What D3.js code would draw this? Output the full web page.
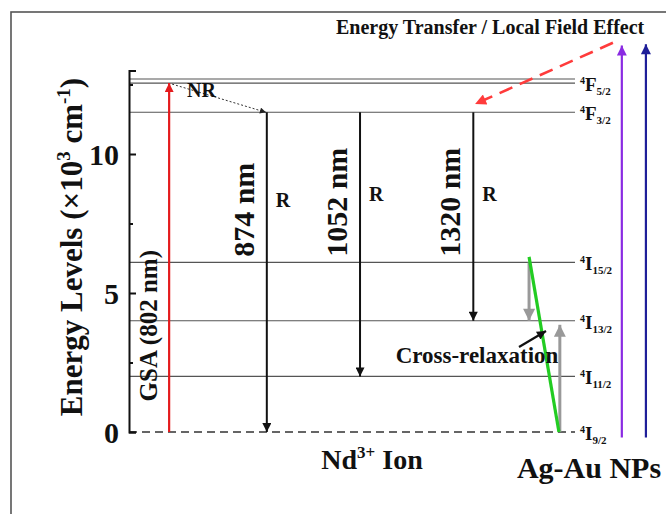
<!DOCTYPE html>
<html>
<head>
<meta charset="utf-8">
<script src="https://cdn.jsdelivr.net/npm/d3@7"></script>
<style>
  body { margin: 0; background: #fff; }
  text { font-family: "Liberation Serif", "Times New Roman", serif; font-weight: bold; fill: #111; }
</style>
</head>
<body>
<div id="chart"></div>
<script>
// Nd3+ energy levels (x10^3 cm^-1)
var levelLetters = ["I", "I", "I", "I", "F", "F"];
var levelSubs    = ["9/2", "11/2", "13/2", "15/2", "3/2", "5/2"];
var levelEnergy  = [0, 2.0, 4.0, 6.1, 11.5, 12.55];
var pairEnergy   = 12.7;   // upper line of the 4F5/2 pair

var yTicks      = [0, 5, 10];
var yMinorTicks = [2.5, 7.5, 12.5];

// GSA pump and radiative transitions
var gsaFrom = 0, gsaTo = 12.55;
var emissionLabels = ["874 nm", "1052 nm", "1320 nm"];
var emissionFrom   = [11.5, 11.5, 11.5];
var emissionTo     = [0, 2.0, 4.0];

// cross relaxation: 4I15/2 -> 4I13/2 and 4I9/2 -> 4I13/2
var crossDown = [6.1, 4.0];
var crossUp   = [0, 4.0];

// plasmon (Ag-Au NPs) excitation arrows
var npFrom = [-0.2, -0.2];
var npTo   = [13.9, 13.95];

var W = 666, H = 514;

var svg = d3.select("#chart")
  .append("svg")
  .attr("width", W)
  .attr("height", H);

svg.append("rect").attr("width", W).attr("height", H).attr("fill", "#fff");

// outer frame (cut by the picture edges right and bottom)
svg.append("rect")
  .attr("x", 11).attr("y", 12)
  .attr("width", 720).attr("height", 600)
  .attr("fill", "none")
  .attr("stroke", "#555")
  .attr("stroke-width", 1.6);

var y = d3.scaleLinear().domain([0, 13]).range([432, 70.6]);
// horizontal position in the diagram, 0 = y axis, 1 = end of level lines
var x = d3.scaleLinear().domain([0, 1]).range([129, 575]);

// arrow heads
var defs = svg.append("defs");
function marker(id, color, len, wid) {
  defs.append("marker")
    .attr("id", id)
    .attr("markerUnits", "userSpaceOnUse")
    .attr("viewBox", "0 0 10 10")
    .attr("refX", 10).attr("refY", 5)
    .attr("markerWidth", len).attr("markerHeight", wid)
    .attr("orient", "auto")
    .append("path")
    .attr("d", "M0,0 L10,5 L0,10 z")
    .attr("fill", color);
}
marker("hBlack", "#111", 13, 9);
marker("hRed", "#e41a1c", 12, 9);
marker("hGray", "#999", 14, 12);
marker("hPurple", "#8a2be2", 13, 10);
marker("hBlue", "#1f1f99", 13, 10);
marker("hDash", "#ff3b3b", 14, 11);
marker("hSmall", "#222", 8, 6);
marker("hCross", "#111", 12, 9);

// level lines
var levels = svg.append("g");
levels.selectAll("line.lvl")
  .data(levelEnergy.slice(1).concat([pairEnergy]))
  .enter().append("line")
  .attr("class", "lvl")
  .attr("x1", x(0)).attr("x2", x(1))
  .attr("y1", function(d) { return y(d); })
  .attr("y2", function(d) { return y(d); })
  .attr("stroke", "#555")
  .attr("stroke-width", 1.1);

// ground level dashed
levels.append("line")
  .attr("x1", x(0)).attr("x2", x(1))
  .attr("y1", y(levelEnergy[0])).attr("y2", y(levelEnergy[0]))
  .attr("stroke", "#333")
  .attr("stroke-width", 1.6)
  .attr("stroke-dasharray", "8,5");

// level labels  4I_{15/2} etc
var lab = svg.append("g").selectAll("text")
  .data(levelEnergy)
  .enter().append("text")
  .attr("x", x(1) + 5)
  .attr("y", function(d) { return y(d) + 8; });
lab.append("tspan").attr("font-size", 10).attr("dy", -7).text("4");
lab.append("tspan").attr("font-size", 19).attr("dy", 7)
  .text(function(d, i) { return levelLetters[i]; });
lab.append("tspan").attr("font-size", 11).attr("dy", 4)
  .text(function(d, i) { return levelSubs[i]; });

// y axis
var yAxis = d3.axisRight(y).tickValues(yTicks).tickSize(7).tickFormat("");
var ga = svg.append("g").attr("transform", "translate(" + x(0) + ",0)").call(yAxis);
ga.select(".domain").attr("stroke", "#111").attr("stroke-width", 2);
ga.selectAll(".tick line").attr("stroke", "#111").attr("stroke-width", 2);
var gm = svg.append("g").attr("transform", "translate(" + x(0) + ",0)")
  .call(d3.axisRight(y).tickValues(yMinorTicks).tickSize(4).tickFormat(""));
gm.select(".domain").remove();
gm.selectAll(".tick line").attr("stroke", "#111").attr("stroke-width", 2);

svg.append("g").selectAll("text")
  .data(yTicks)
  .enter().append("text")
  .attr("x", x(0) - 10)
  .attr("y", function(d) { return y(d) + 11; })
  .attr("text-anchor", "end")
  .attr("font-size", 30)
  .text(function(d) { return d; });

var yl = svg.append("text")
  .attr("transform", "translate(82,247) rotate(-90)")
  .attr("text-anchor", "middle")
  .attr("font-size", 31);
yl.append("tspan").text("Energy Levels (\u00d710");
yl.append("tspan").attr("font-size", 19).attr("dy", -12).text("3");
yl.append("tspan").attr("dy", 12).text(" cm");
yl.append("tspan").attr("font-size", 19).attr("dy", -12).text("-1");
yl.append("tspan").attr("dy", 12).text(")");

// GSA arrow
var gsaX = x(0.09);
svg.append("line")
  .attr("x1", gsaX).attr("x2", gsaX)
  .attr("y1", y(gsaFrom)).attr("y2", y(gsaTo))
  .attr("stroke", "#e41a1c").attr("stroke-width", 2.2)
  .attr("marker-end", "url(#hRed)");
svg.append("text")
  .attr("transform", "translate(" + (gsaX - 12) + "," + y(1.1) + ") rotate(-90)")
  .attr("font-size", 25)
  .text("GSA (802 nm)");

// NR dotted
svg.append("line")
  .attr("x1", gsaX + 3).attr("y1", y(gsaTo) + 1)
  .attr("x2", x(0.307)).attr("y2", y(emissionFrom[0]))
  .attr("stroke", "#333").attr("stroke-width", 1)
  .attr("stroke-dasharray", "2,2")
  .attr("marker-end", "url(#hSmall)");
svg.append("text").attr("x", 187).attr("y", 97).attr("font-size", 20).text("NR");

// emission arrows
var emX = [0.309, 0.518, 0.772];
var em = svg.append("g").selectAll("g")
  .data(emissionLabels)
  .enter().append("g");
em.append("line")
  .attr("x1", function(d, i) { return x(emX[i]); })
  .attr("x2", function(d, i) { return x(emX[i]); })
  .attr("y1", function(d, i) { return y(emissionFrom[i]); })
  .attr("y2", function(d, i) { return y(emissionTo[i]); })
  .attr("stroke", "#111").attr("stroke-width", 2)
  .attr("marker-end", "url(#hBlack)");
em.append("text")
  .attr("transform", function(d, i) {
    return "translate(" + (x(emX[i]) - 13) + "," + y(6.3) + ") rotate(-90)";
  })
  .attr("font-size", 30)
  .text(function(d) { return d; });
em.append("text")
  .attr("x", function(d, i) { return x(emX[i]) + 9; })
  .attr("y", function(d, i) { return i === 0 ? 207 : 201; })
  .attr("font-size", 20)
  .text("R");

// cross relaxation
svg.append("line")
  .attr("x1", x(0.897)).attr("x2", x(0.897))
  .attr("y1", y(crossDown[0])).attr("y2", y(crossDown[1]))
  .attr("stroke", "#999").attr("stroke-width", 3)
  .attr("marker-end", "url(#hGray)");
svg.append("line")
  .attr("x1", x(0.966)).attr("x2", x(0.966))
  .attr("y1", y(crossUp[0])).attr("y2", y(crossUp[1]) + 4)
  .attr("stroke", "#999").attr("stroke-width", 3)
  .attr("marker-end", "url(#hGray)");
svg.append("line")
  .attr("x1", x(0.897)).attr("y1", y(6.3))
  .attr("x2", x(0.964)).attr("y2", y(0))
  .attr("stroke", "#22cc22").attr("stroke-width", 3.2);
svg.append("line")
  .attr("x1", 519).attr("y1", 347)
  .attr("x2", 546).attr("y2", 331)
  .attr("stroke", "#111").attr("stroke-width", 2.2)
  .attr("marker-end", "url(#hCross)");
svg.append("text")
  .attr("x", 477).attr("y", 363)
  .attr("text-anchor", "middle")
  .attr("font-size", 23)
  .text("Cross-relaxation");

// Ag-Au NP arrows
var npX = [1.105, 1.159], npCol = ["#8a2be2", "#1f1f99"], npHead = ["hPurple", "hBlue"];
svg.append("g").selectAll("line")
  .data(npTo)
  .enter().append("line")
  .attr("x1", function(d, i) { return x(npX[i]); })
  .attr("x2", function(d, i) { return x(npX[i]); })
  .attr("y1", function(d, i) { return y(npFrom[i]); })
  .attr("y2", function(d) { return y(d); })
  .attr("stroke", function(d, i) { return npCol[i]; })
  .attr("stroke-width", 2.2)
  .attr("marker-end", function(d, i) { return "url(#" + npHead[i] + ")"; });

// energy transfer dashed arrow
svg.append("line")
  .attr("x1", x(1.085)).attr("y1", y(14.0))
  .attr("x2", x(0.776)).attr("y2", y(11.8))
  .attr("stroke", "#ff3b3b").attr("stroke-width", 2.6)
  .attr("stroke-dasharray", "14,8")
  .attr("marker-end", "url(#hDash)");
svg.append("text")
  .attr("x", 336).attr("y", 34)
  .attr("font-size", 20)
  .text("Energy Transfer / Local Field Effect");

// bottom captions
var nd = svg.append("text")
  .attr("x", 372).attr("y", 469)
  .attr("text-anchor", "middle")
  .attr("font-size", 28);
nd.append("tspan").text("Nd");
nd.append("tspan").attr("font-size", 17).attr("dy", -11).text("3+");
nd.append("tspan").attr("dy", 11).text(" Ion");

svg.append("text")
  .attr("x", 589).attr("y", 478)
  .attr("text-anchor", "middle")
  .attr("font-size", 30)
  .text("Ag-Au NPs");
</script>
</body>
</html>
